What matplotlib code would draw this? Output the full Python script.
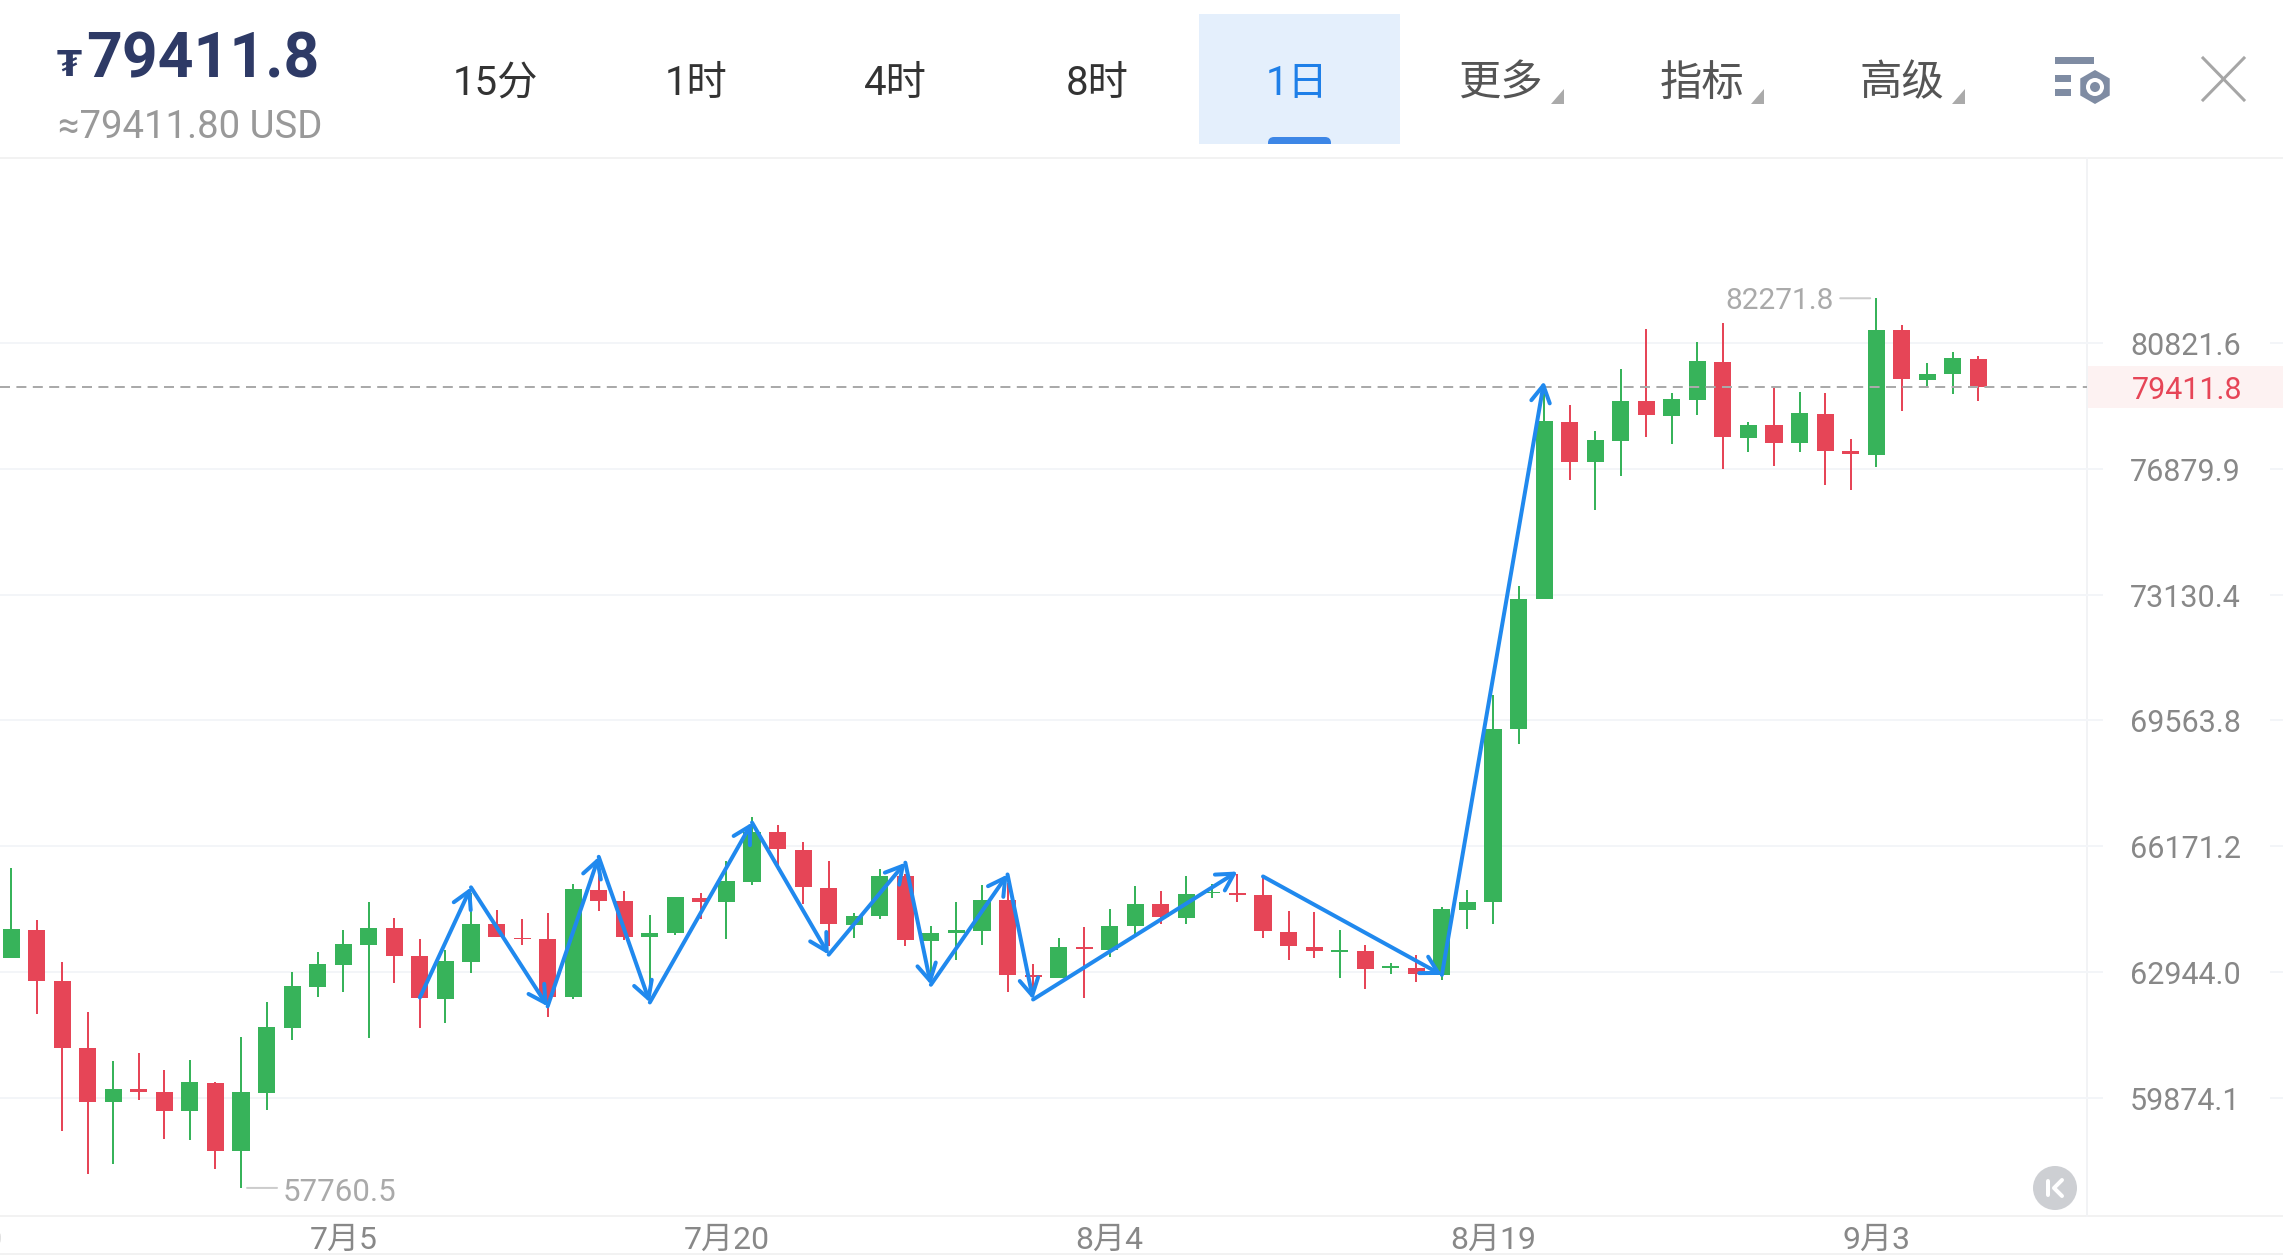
import matplotlib
matplotlib.use('Agg')
import matplotlib.pyplot as plt
from matplotlib.patches import Rectangle, Circle, Polygon, RegularPolygon, FancyBboxPatch
from matplotlib.ticker import NullLocator, FixedLocator, FixedFormatter
from matplotlib.transforms import ScaledTranslation

plt.rcParams['font.family'] = ['Roboto', 'Noto Sans CJK SC', 'DejaVu Sans']

# daily candles, prices
opens = [63289, 64008, 62701, 61065, 59762, 60075, 60001, 59544, 60228, 58615,
         59991, 61548, 62564, 63117, 63623, 64042, 63348, 62262, 63194, 64144,
         63792, 63759, 62311, 65024, 64734, 63810, 63913, 64829, 64708, 65239,
         66530, 66076, 65086, 64126, 64357, 65383, 63726, 63913, 63972, 64768,
         62857, 62791, 63561, 63502, 64093, 64657, 64316, 64939, 64939, 64888,
         63957, 63579, 63451, 63469, 63048, 63048, 62872, 64521, 64714, 69314,
         72997, 78333, 77082, 77740, 78982, 78524, 79013, 80226, 77822, 78230,
         77656, 78587, 77414, 77311, 81230, 79640, 79819, 80320]
highs = [65599, 64264, 63194, 61944, 60741, 60936, 60538, 60765, 60252, 61334,
         62189, 62945, 63451, 64008, 64708, 64316, 63759, 63484, 64957, 64511,
         64290, 64426, 65188, 65599, 64991, 64375, 64855, 64957, 65786, 66945,
         66719, 66287, 65786, 64426, 65573, 65427, 64100, 64727, 65163, 65214,
         63135, 63792, 64067, 64529, 65119, 64991, 65375, 65170, 65427, 65383,
         64485, 64459, 64008, 63605, 63161, 63374, 64598, 65034, 70274, 73390,
         79442, 78850, 78054, 79997, 81262, 79223, 80844, 81474, 78336, 79433,
         79254, 79223, 77781, 82271.8, 81400, 80186, 80540, 80414]
lows = [63289, 61905, 59080, 58081, 58314, 59823, 58903, 58871, 58191, 57760.5,
        59568, 61254, 62328, 62433, 61310, 62652, 61548, 61686, 62906, 63810,
        63613, 61832, 62262, 64477, 63733, 62540, 63880, 64290, 63759, 65145,
        65555, 64665, 63587, 63784, 64290, 63587, 62743, 63246, 63605, 62442,
        62418, 62791, 62286, 63315, 63888, 64162, 64151, 64811, 64727, 63803,
        63228, 63297, 62799, 62506, 62896, 62686, 62726, 64034, 64154, 68916,
        72997, 76533, 75629, 76673, 77844, 77634, 78555, 76872, 77383, 76966,
        77383, 76395, 76225, 76944, 78659, 79464, 79214, 78982]
closes = [64016, 62711, 61075, 59777, 60082, 60001, 59561, 60245, 58625, 60009,
          61571, 62579, 63135, 63649, 64059, 63348, 62279, 63212, 64162, 63810,
          63767, 62328, 65042, 64742, 63818, 63931, 64837, 64716, 65247, 66541,
          66094, 65093, 64144, 64367, 65393, 63741, 63931, 63990, 64778, 62872,
          62808, 63571, 63520, 64100, 64665, 64331, 64914, 64973, 64896, 63964,
          63587, 63469, 63484, 63022, 63084, 62889, 64537, 64727, 69314, 73008,
          78345, 77101, 77750, 78994, 78543, 79035, 80248, 77844, 78242, 77666,
          78595, 77427, 77333, 81239, 79662, 79841, 80330, 79411.8]

y_ticks = [80821.6, 76879.9, 73130.4, 69563.8, 66171.2, 62944.0, 59874.1]
y_labels = ['80821.6', '76879.9', '73130.4', '69563.8', '66171.2', '62944.0', '59874.1']
last_price = 79411.8

date_idx = [13, 28, 43, 58, 73]
date_labels = ['7月5', '7月20', '8月4', '8月19', '9月3']

# hand drawn arrows on the chart: candle index and price at both ends
arrow_x0 = [16, 18, 21, 23, 25, 29, 32, 35, 36, 39, 40, 49, 56]
arrow_p0 = [62303, 65093, 62084, 65888, 62181, 66792, 63374, 65734, 62620, 65427, 62254, 65375, 62865]
arrow_x1 = [18, 21, 23, 25, 29, 32, 35, 36, 39, 40, 48, 56, 60]
arrow_p1 = [65093, 62084, 65888, 62181, 66792, 63374, 65734, 62620, 65427, 62254, 65504, 62865, 79599]

tabs = ['15分', '1时', '4时', '8时', '1日', '更多', '指标', '高级']

GREEN = '#37B35A'
RED = '#E64557'
BLUE = '#2089EE'
GRID = '#F3F5F8'
W, H = 2283, 1256
PT = 0.72  # pixels to points at dpi 100

fig = plt.figure(figsize=(W / 100, H / 100), dpi=100, facecolor='white')

# header and frame, in pixel coordinates
bg = fig.add_axes([0, 0, 1, 1])
bg.set_xlim(0, W)
bg.set_ylim(H, 0)
bg.axis('off')

bg.text(57, 66, '₮', fontsize=26, fontweight='bold', color='#2E3A66', va='center', ha='left', family='DejaVu Sans')
bg.text(86, 61, '79411.8', fontsize=45, fontweight='bold', color='#2E3A66', va='center', ha='left')
bg.text(58, 128, '≈79411.80 USD', fontsize=27.5, color='#999999', va='center', ha='left')

box = Rectangle((1199, 14), 201, 130, facecolor='#E4EFFC', edgecolor='none')
bg.add_patch(box)
bar = FancyBboxPatch((1274, 143), 51, 8, boxstyle='round,pad=6', facecolor='#3D86E6', edgecolor='none')
bg.add_patch(bar)
bar.set_clip_path(box)

tab_x = [495, 696, 895, 1097, 1297, 1500, 1702, 1902]
tab_c = ['#333333', '#333333', '#333333', '#333333', '#1E7FE8', '#555555', '#555555', '#555555']
tab_s = [29, 29, 29, 29, 29, 30.5, 30.5, 30.5]
for t, x, c, s in zip(tabs, tab_x, tab_c, tab_s):
    bg.text(x, 84, t, fontsize=s, color=c, ha='center', va='center')
for x in [1551, 1751, 1952]:
    bg.add_patch(Polygon([(x, 104), (x + 13, 104), (x + 13, 89)], facecolor='#AAAAAA', edgecolor='none'))

# settings icon
for x0, y0, w0 in [(2055, 57, 39), (2055, 75, 16), (2055, 89, 16)]:
    bg.add_patch(Rectangle((x0, y0), w0, 7, facecolor='#7F8CA3', edgecolor='none'))
bg.add_patch(RegularPolygon((2095, 87), 6, radius=17, facecolor='#7F8CA3', edgecolor='none'))
bg.add_patch(Circle((2095, 87), 9, facecolor='white', edgecolor='none'))
bg.add_patch(Circle((2095, 87), 5, facecolor='#7F8CA3', edgecolor='none'))

# close icon
bg.plot([2203, 2244], [58, 100], color='#A6A6A6', lw=3 * PT)
bg.plot([2203, 2244], [100, 58], color='#A6A6A6', lw=3 * PT)

bg.plot([0, W], [158, 158], color='#F2F2F2', lw=2 * PT)
bg.plot([0, W], [1216, 1216], color='#F2F2F2', lw=2 * PT)
bg.plot([0, W], [1254, 1254], color='#F2F2F2', lw=2 * PT)
bg.plot([2087, 2087], [158, 1216], color='#F2F3F5', lw=2 * PT)

# price tag behind the right axis
bg.add_patch(Rectangle((2088, 366), W - 2088, 42, facecolor='#FDF2F2', edgecolor='none'))

# jump to latest button
bg.add_patch(Circle((2055, 1188), 22, facecolor='#CDCFD3', edgecolor='none'))
bg.plot([2048, 2048], [1181, 1195], color='white', lw=4 * PT, solid_capstyle='round')
bg.plot([2062, 2054, 2062], [1180, 1188, 1196], color='white', lw=4 * PT, solid_capstyle='round')

# candle chart
ax = fig.add_axes([0, 1 - 1215 / H, 2087 / W, (1215 - 158) / H], facecolor='none')
ax.set_yscale('log')
ax.set_xlim(-0.434, 81.25)
ax.set_ylim(57142, 86990)

x = list(range(len(opens)))
colors = [GREEN if c >= o else RED for o, c in zip(opens, closes)]
ax.vlines(x, lows, highs, colors=colors, lw=2 * PT, zorder=2)
tops = [max(o, c) for o, c in zip(opens, closes)]
bottoms = [min(o, c) for o, c in zip(opens, closes)]
ax.bar(x, [t - b for t, b in zip(tops, bottoms)], bottom=bottoms, width=0.67, color=colors, zorder=3)

ax.yaxis.set_major_locator(FixedLocator(y_ticks))
ax.yaxis.set_major_formatter(FixedFormatter(y_labels))
ax.yaxis.set_minor_locator(NullLocator())
ax.yaxis.tick_right()
ax.tick_params(axis='y', length=0, pad=31, labelsize=22, labelcolor='#888888')
ax.grid(axis='y', color=GRID, lw=2 * PT, zorder=0)
ax.set_xticks(date_idx)
ax.set_xticklabels(date_labels)
ax.tick_params(axis='x', length=0, pad=8, labelsize=23, labelcolor='#888888')
for side in ax.spines:
    ax.spines[side].set_visible(False)

# nudge price labels down a touch
shift = ScaledTranslation(0, -0.5 / 100, fig.dpi_scale_trans)
for tick in ax.yaxis.get_major_ticks():
    tick.label2.set_transform(tick.label2.get_transform() + shift)

# grid stubs on both sides of the price labels
yt = ax.get_yaxis_transform()
ax.hlines(y_ticks, 1, 2103 / 2087, transform=yt, colors=GRID, lw=2 * PT, clip_on=False)
ax.hlines(y_ticks, 2270 / 2087, W / 2087, transform=yt, colors=GRID, lw=2 * PT, clip_on=False)

ax.text(-2, -22 / 1057, '6月20', transform=ax.get_xaxis_transform(), fontsize=23, color='#888888',
        ha='center', va='center_baseline', clip_on=False)

ax.axhline(last_price, color='#AAAAAA', lw=2 * PT, dashes=(5, 3.2), zorder=4)
ax.text(2187 / 2087, last_price, '79411.8', transform=yt, fontsize=22, color=RED, ha='center',
        va='center_baseline', clip_on=False)

for x0, p0, x1, p1 in zip(arrow_x0, arrow_p0, arrow_x1, arrow_p1):
    ax.annotate('', xy=(x1, p1), xytext=(x0, p0),
                arrowprops=dict(arrowstyle='->,head_length=0.5,head_width=0.28', color=BLUE,
                                lw=4 * PT, shrinkA=0, shrinkB=0, mutation_scale=24), zorder=5)

# high and low marks
ax.annotate('82271.8', xy=(73, 82271.8), xytext=(-42, 0), textcoords='offset pixels', fontsize=21.5,
            color='#AAAAAA', ha='right', va='center_baseline')
ax.annotate('', xy=(73, 82271.8), xytext=(-36, 0), textcoords='offset pixels',
            arrowprops=dict(arrowstyle='-', color='#CCCCCC', lw=2 * PT, shrinkA=0, shrinkB=6 * PT))
ax.annotate('57760.5', xy=(9, 57760.5), xytext=(42, -2), textcoords='offset pixels', fontsize=22.5,
            color='#AAAAAA', ha='left', va='center_baseline')
ax.annotate('', xy=(9, 57760.5), xytext=(36, 0), textcoords='offset pixels',
            arrowprops=dict(arrowstyle='-', color='#CCCCCC', lw=2 * PT, shrinkA=0, shrinkB=6 * PT))

fig.savefig('out.png', dpi=100)
